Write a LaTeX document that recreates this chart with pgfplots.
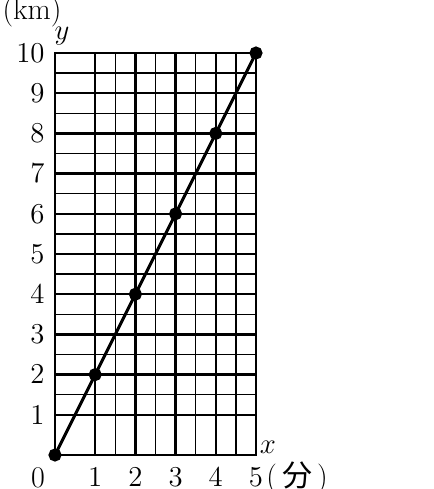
\documentclass[border=0pt]{standalone}
\usepackage{pgfplots}
\pgfplotsset{compat=1.18}
\usepackage{fontspec}
\newfontfamily\cjk{Noto Sans CJK JP}

\pgfplotstableread{
x y
0 0
1 2
2 4
3 6
4 8
5 10
}\distance

\begin{document}
\begin{tikzpicture}
  \fontsize{15}{17}\selectfont
  \path[use as bounding box] (-27.5pt,-17pt) rectangle (189.5pt,227.5pt);
  \begin{axis}[
      at={(0,0)}, anchor=origin,
      scale only axis,
      width=100.5pt, height=201pt,
      xmin=0, xmax=5, ymin=0, ymax=10,
      xtick={1,2,3,4,5}, ytick={1,2,...,10},
      minor x tick num=1, minor y tick num=1,
      grid=both,
      major grid style={line width=1.2pt, black},
      minor grid style={line width=0.75pt, black},
      axis line style={line width=1.2pt, black},
      major tick length=0pt, minor tick length=0pt,
      xticklabel style={inner sep=0pt, anchor=north, yshift=-6.3pt},
      yticklabel style={inner sep=0pt, anchor=east, xshift=-5pt},
      clip=false,
    ]
    \addplot[black, line width=1.5pt, mark=*, mark size=2.5pt] table[x=x, y=y] {\distance};
    \node[inner sep=0pt, anchor=north] at ([xshift=-8.5pt, yshift=-6.3pt]axis cs:0,0) {0};
    \node[inner sep=0pt] at ([xshift=6pt, yshift=4pt]axis cs:5,0) {$x$};
    \node[inner sep=0pt] at ([xshift=3.5pt, yshift=8.5pt]axis cs:0,10) {$y$};
    \node[inner sep=0pt] at ([xshift=-11.5pt, yshift=20.5pt]axis cs:0,10) {(km)};
    \node[anchor=west, inner sep=0pt] at ([xshift=5pt, yshift=-11.3pt]axis cs:5,0) {(\,\cjk 分\normalfont\,)};
  \end{axis}
\end{tikzpicture}
\end{document}
